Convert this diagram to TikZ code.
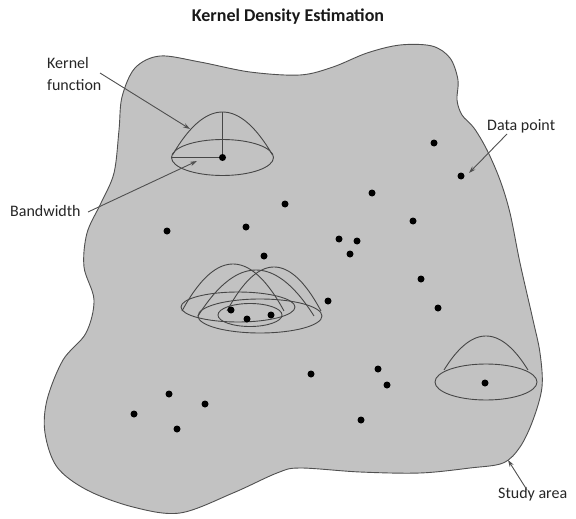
\documentclass[tikz,border=0pt]{standalone}
\usepackage{fontspec}
\setmainfont{Carlito}
\usetikzlibrary{arrows.meta}
\definecolor{areafill}{RGB}{194,194,194}
\definecolor{edgecol}{RGB}{80,80,80}
\definecolor{kerncol}{RGB}{70,70,70}
\newcommand\kdome[4]{\draw[kline] plot[domain=-1:1,samples=41,smooth] ({#1+#3*\x},{#2-#4*(1-\x*\x)});}
\begin{document}
\begin{tikzpicture}[x=1pt,y=-1pt,
  kline/.style={draw=kerncol,line width=0.9pt},
  dot/.style={circle,fill=black,inner sep=0pt,minimum size=7pt},
  lbl/.style={inner sep=0pt,font=\fontsize{16}{22}\selectfont,text=black!85},
  pointer/.style={draw=edgecol,line width=0.9pt,-{Stealth[length=7pt,width=4.5pt]}}]
\useasboundingbox (0,0) rectangle (576,519);
\fill[white] (0,0) rectangle (576,519);
\node[anchor=base,inner sep=0pt,font=\fontsize{18}{22}\bfseries\selectfont,text=black!90] (title) at (288,22) {Kernel Density Estimation};
% study area
\filldraw[fill=areafill,draw=edgecol,line width=0.9pt] plot[smooth cycle,tension=0.55] coordinates {
 (122,97) (135,68) (160,56) (200,62) (250,72) (300,75) (333,67) (367,53) (400,45) (432,46)
 (450,58) (458,80) (457,100) (462,115) (474,128) (487,150) (500,180) (510,213) (520,263)
 (533,320) (540,353) (542,387) (533,420) (520,447) (503,463) (470,468) (420,473) (360,472)
 (300,468) (277,473) (233,493) (180,513) (133,507) (87,490) (57,467) (45,433) (47,400)
 (63,360) (86,333) (94,300) (84,267) (87,233) (101,203) (114,173) (119,130)};
% top-left kernel
\draw[kline] (222.5,157.5) ellipse [x radius=51,y radius=18];
\kdome{222.5}{155}{50}{43}
\draw[kline] (222.5,157.5) -- (222.5,112);
\draw[kline] (222.5,157.5) -- (172,157.5);
% central kernels
\draw[kline] (238,307) ellipse [x radius=57,y radius=15];
\draw[kline] (260,316) ellipse [x radius=62,y radius=17];
\draw[kline] (250,315) ellipse [x radius=32,y radius=11.5];
\kdome{233}{311}{51}{47}
\kdome{256}{316}{58}{46}
\kdome{274}{311}{47}{44}
% bottom-right kernel
\draw[kline] (486,382) ellipse [x radius=51,y radius=18];
\kdome{486}{370}{42}{34}
% data points
\foreach \px/\py [count=\i] in {222.5/157.5,434/143,461/176,372/193,285/204,413/221,167/231,246/227,
  339/239,357/241,350/254,264/256,421/279,328/301,438/308,231/310,247/319,271/315,311/374,
  378/369,387/385,485/383,169/394,205/404,134/414,177/429,361/420}
  \node[dot] (p\i) at (\px,\py) {};
% labels
\node[lbl,anchor=north west,align=left] (kf) at (47,57) {Kernel\\function};
\node[lbl,anchor=base west] (bw) at (10,216) {Bandwidth};
\node[lbl,anchor=base west] (dp) at (487,130) {Data point};
\node[lbl,anchor=base west] (sa) at (498,498) {Study area};
% pointers
\coordinate (kfs) at (100,73); \coordinate (kft) at (190,129);
\coordinate (bws) at (88,212); \coordinate (bwt) at (197,161);
\coordinate (dps) at (507,134); \coordinate (dpt) at (469,173);
\coordinate (sas) at (527,490); \coordinate (sat) at (508,460);
\draw[pointer] (kfs) -- (kft);
\draw[pointer] (bws) -- (bwt);
\draw[pointer] (dps) -- (dpt);
\draw[pointer] (sas) -- (sat);
\end{tikzpicture}
\end{document}
